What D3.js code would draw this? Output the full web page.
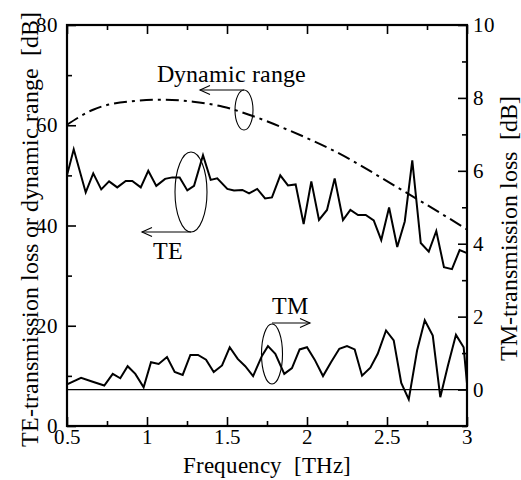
<!DOCTYPE html>
<html><head><meta charset="utf-8">
<script src="https://cdn.jsdelivr.net/npm/d3@7"></script>
<style>
@font-face{font-family:"ChartSerif";src:local("Liberation Serif"),local("LiberationSerif"),local("LiberationSerif-Regular"),local("Tinos"),local("Tinos-Regular"),local("Times New Roman"),local("Nimbus Roman"),local("NimbusRoman-Regular"),local("FreeSerif");}
</style>
</head><body style="margin:0">
<svg id="c" width="521" height="480" style="display:block"></svg>
<script>
// Frequency (THz) and TE-transmission loss (dB, left axis)
const teFreq = [0.500,0.542,0.617,0.664,0.714,0.763,0.814,0.867,0.908,0.961,1.008,1.058,1.113,1.158,1.204,1.252,1.294,1.350,1.398,1.439,1.502,1.544,1.596,1.638,1.689,1.738,1.781,1.833,1.881,1.929,1.979,2.027,2.075,2.125,2.173,2.225,2.271,2.319,2.367,2.417,2.464,2.513,2.564,2.611,2.658,2.711,2.761,2.808,2.856,2.906,2.954,3.000];
const teLoss = [50.0,55.2,46.6,50.4,47.2,48.8,47.6,48.9,48.9,47.6,50.9,47.9,49.3,49.6,49.6,47.0,47.9,54.0,49.1,49.4,47.3,47.0,47.1,46.4,47.3,45.4,45.6,50.0,48.0,48.2,40.3,48.8,41.1,43.1,49.4,41.1,43.1,42.1,42.1,41.0,37.1,43.6,35.7,40.8,53.0,36.5,34.8,38.9,31.7,31.3,35.1,34.5];
// TM-transmission loss (dB, right axis)
const tmFreq = [0.500,0.588,0.656,0.733,0.786,0.833,0.879,0.927,0.979,1.025,1.073,1.125,1.173,1.223,1.271,1.319,1.369,1.417,1.469,1.517,1.567,1.614,1.663,1.719,1.756,1.802,1.858,1.906,1.954,2.000,2.048,2.100,2.150,2.202,2.250,2.298,2.344,2.396,2.442,2.494,2.542,2.589,2.636,2.688,2.736,2.786,2.833,2.881,2.931,2.979,3.000];
const tmLoss = [0.14,0.32,0.22,0.11,0.43,0.31,0.64,0.43,0.06,0.75,0.70,0.89,0.48,0.40,0.95,0.95,0.82,0.48,0.66,1.16,0.84,0.64,0.37,0.93,1.19,0.98,0.43,0.59,1.10,1.16,0.82,0.37,0.75,1.12,1.19,1.10,0.38,0.60,0.98,1.62,1.35,0.18,-0.27,1.07,1.90,1.48,-0.21,0.66,1.50,1.16,0.16];
// Dynamic range (dB, left axis)
const drFreq = [0.5,0.663,0.875,1.1,1.288,1.475,1.656,1.894,2.156,2.581,2.975,3.0];
const drVal  = [60.1,63.1,64.7,65.1,64.7,63.7,61.9,58.9,55.1,47.3,39.7,39.2];
// Ticks
const xMajor = [0.5,1,1.5,2,2.5,3];
const xMinor = [0.75,1.25,1.75,2.25,2.75];
const yLMajor = [0,20,40,60,80];
const yLMinor = [10,30,50,70];
const yRMajor = [0,2,4,6,8,10];
const yRMinor = [-1,1,3,5,7,9];

const FONT = '"ChartSerif", "Liberation Serif", "Times New Roman", Tinos';
const L=67,R=467,T=25,B=426;
const svg=d3.select("#c");
const x=d3.scaleLinear([0.5,3],[L,R]);
const yL=d3.scaleLinear([0,80],[B,T]);
const yR=d3.scaleLinear([-1,10],[B,T]);

function ax(gen,vals,size,fmt,pad,tr){
  const g=svg.append("g").attr("transform",tr).call(gen.tickValues(vals).tickSize(size).tickPadding(pad).tickFormat(fmt));
  g.attr("font-family",null).attr("font-size",null);
  g.select(".domain").remove();
  g.selectAll("line").attr("stroke","#000").attr("stroke-width",1.6);
  g.selectAll("text").style("font-family",FONT).style("font-size","21px").attr("fill","#000");
  return g;
}
const fmt=d=>String(d), none=()=>"";
ax(d3.axisBottom(x),xMajor,-9,fmt,3,`translate(0,${B})`);
ax(d3.axisBottom(x),xMinor,-5,none,3,`translate(0,${B})`);
ax(d3.axisTop(x),xMajor,-9,none,3,`translate(0,${T})`);
ax(d3.axisTop(x),xMinor,-5,none,3,`translate(0,${T})`);
ax(d3.axisLeft(yL),yLMajor,-9,fmt,9,`translate(${L},0)`);
ax(d3.axisLeft(yL),yLMinor,-5,none,9,`translate(${L},0)`);
ax(d3.axisRight(yR),yRMajor,-9,fmt,6,`translate(${R},0)`);
ax(d3.axisRight(yR),yRMinor,-5,none,6,`translate(${R},0)`);

// zero line of TM axis
svg.append("line").attr("x1",L).attr("x2",R).attr("y1",yR(0)).attr("y2",yR(0)).attr("stroke","#000").attr("stroke-width",1.3);

svg.append("rect").attr("x",L).attr("y",T).attr("width",R-L).attr("height",B-T).attr("fill","none").attr("stroke","#000").attr("stroke-width",2.2);

const lineTE=d3.line().x(i=>x(teFreq[i])).y(i=>yL(teLoss[i]));
svg.append("path").attr("d",lineTE(d3.range(teFreq.length))).attr("fill","none").attr("stroke","#000").attr("stroke-width",2);
const lineTM=d3.line().x(i=>x(tmFreq[i])).y(i=>yR(tmLoss[i]));
svg.append("path").attr("d",lineTM(d3.range(tmFreq.length))).attr("fill","none").attr("stroke","#000").attr("stroke-width",2);
const lineDR=d3.line().curve(d3.curveMonotoneX).x(i=>x(drFreq[i])).y(i=>yL(drVal[i]));
svg.append("path").attr("d",lineDR(d3.range(drFreq.length))).attr("fill","none").attr("stroke","#000").attr("stroke-width",2).attr("stroke-dasharray","13,5,3,5");

// annotations
function ell(cx,cy,rx,ry){svg.append("ellipse").attr("cx",cx).attr("cy",cy).attr("rx",rx).attr("ry",ry).attr("fill","none").attr("stroke","#000").attr("stroke-width",1.1);}
function arrow(x1,y1,x2,y2){
  svg.append("line").attr("x1",x1).attr("y1",y1).attr("x2",x2).attr("y2",y2).attr("stroke","#000").attr("stroke-width",1.1);
  const s=Math.sign(x1-x2);
  svg.append("path").attr("d",`M${x2+s*10},${y2-4.5}L${x2},${y2}L${x2+s*10},${y2+4.5}`).attr("fill","none").attr("stroke","#000").attr("stroke-width",1.1);
}
ell(244,110,9,20); arrow(244,90,200,90);
ell(191,192,16,40); arrow(191,232,142,232);
ell(272,354,10.5,30); arrow(272,323,310,323);
function txt(size){return svg.append("text").style("font-family",FONT).style("font-size",size+"px").attr("fill","#000");}
txt(24).attr("x",157).attr("y",82).text("Dynamic range");
txt(24).attr("x",168).attr("y",259).attr("text-anchor","middle").text("TE");
txt(24).attr("x",290).attr("y",314).attr("text-anchor","middle").text("TM");

// axis titles
txt(23).attr("x",267).attr("y",473).attr("text-anchor","middle").text("Frequency\u00a0\u00a0[THz]");
txt(24).attr("transform","translate(38,229) rotate(-90)").attr("text-anchor","middle").text("TE-transmission loss or dynamic range\u00a0\u00a0[dB]");
txt(24).attr("transform","translate(517,228) rotate(-90)").attr("text-anchor","middle").text("TM-transmission loss\u00a0\u00a0[dB]");
</script></body></html>
